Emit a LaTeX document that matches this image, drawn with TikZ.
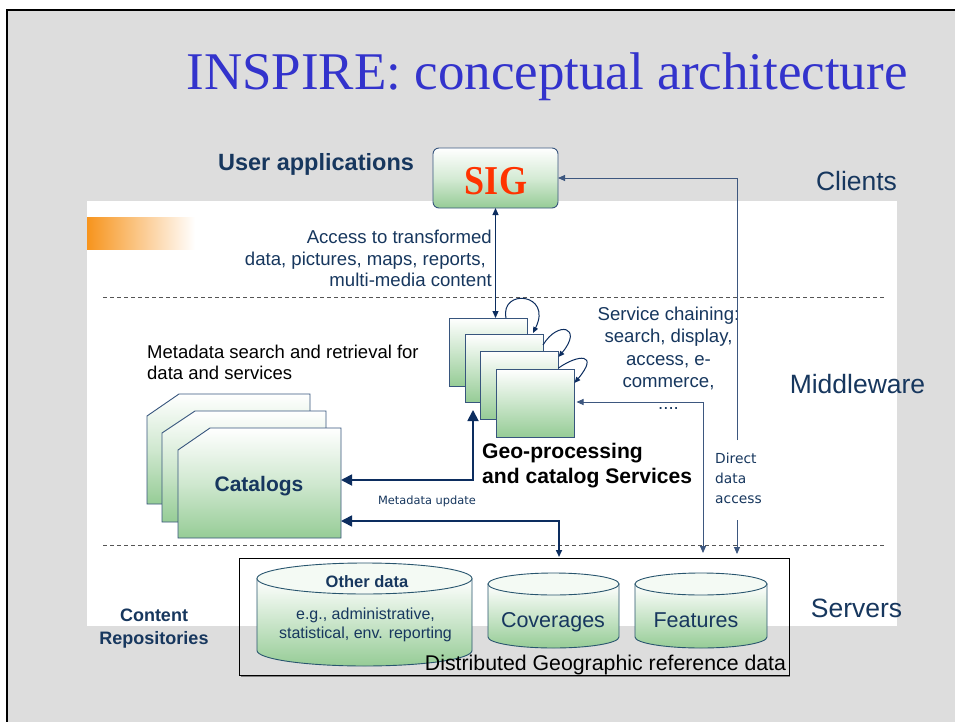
\documentclass[tikz,border=0pt]{standalone}
\usepackage{fontspec}
\usepackage{graphicx}
\setmainfont{Liberation Sans}
\newfontfamily\tnr{Liberation Serif}
\newfontfamily\dvs{DejaVu Sans}
\usetikzlibrary{arrows.meta,calc}
\definecolor{slidebg}{RGB}{221,221,221}
\definecolor{txtblue}{RGB}{23,55,94}
\definecolor{navy}{RGB}{12,45,95}
\definecolor{gr}{RGB}{150,204,150}
\definecolor{boxedge}{RGB}{55,85,125}
\definecolor{cyledge}{RGB}{40,85,110}
\definecolor{titleblue}{RGB}{51,51,204}
\definecolor{sigred}{RGB}{255,51,0}
\definecolor{orangebar}{RGB}{247,148,29}
\definecolor{dashgray}{RGB}{85,85,85}
\newcommand\fs[2]{\fontsize{#1}{#2}\selectfont}
\newcommand\cylinder[5]{%
  \path[draw=cyledge, line width=0.9pt, top color=white, bottom color=gr, middle color=gr!50]
    (#1-#3,#2) -- (#1-#3,#2+#5) arc[start angle=180, end angle=0, x radius=#3, y radius=#4]
    -- (#1+#3,#2) -- cycle;
  \filldraw[fill=gr!10, draw=cyledge, line width=0.9pt] (#1,#2) ellipse [x radius=#3, y radius=#4];}
\begin{document}
\begin{tikzpicture}[x=1pt,y=-1pt,
  box/.style={draw=boxedge, line width=0.9pt, top color=white, bottom color=gr, inner sep=0pt, outer sep=0pt},
  catbox/.style={draw=boxedge, line width=0.9pt, top color=white, bottom color=gr, middle color=gr!45},
  svbox/.style={box, minimum width=78pt, minimum height=68pt},
  lbl/.style={text=txtblue, inner sep=0pt},
  plain/.style={text=black, inner sep=0pt},
  dashline/.style={draw=dashgray, line width=0.8pt, dash pattern=on 4pt off 3pt},
  conn/.style={draw=navy, line width=1.1pt, >={Triangle[length=7pt,width=6pt]}},
  thinconn/.style={draw=navy!80, line width=0.9pt, >={Triangle[length=7pt,width=6pt]}},
  bigconn/.style={draw=navy, line width=1.8pt, >={Triangle[length=11pt,width=11pt]}},
  loopconn/.style={draw=navy, line width=1pt, >={Triangle[length=6pt,width=5pt]}}
]
\useasboundingbox (0,0) rectangle (955,722);
% slide background
\fill[white] (0,0) rectangle (955,722);
\fill[slidebg] (7,10) rectangle (955,722);
\draw[black, line width=2.5pt] (7,722) -- (7,10) -- (955,10);
\fill[white] (87,201) rectangle (897,626);
\shade[left color=orangebar, right color=white] (87,217) rectangle (195,249);
% layer separators
\draw[dashline] (103,297) -- (885,297);
\draw[dashline] (103,545) -- (885,545);
% title
\node[anchor=base, font=\tnr\fs{53}{60}, text=titleblue, inner sep=0pt] (title) at (547,90) {INSPIRE: conceptual architecture};
% layer labels
\node[lbl, anchor=base, font=\fs{26.5}{30}] (clients) at (856.5,190) {Clients};
\node[lbl, anchor=base, font=\fs{26.5}{30}] (middleware) at (857.5,393) {Middleware};
\node[lbl, anchor=base, font=\fs{26.5}{30}] (servers) at (856.5,617) {Servers};
% user applications
\node[lbl, anchor=base, font=\bfseries\fs{23.5}{28}] (ua) at (316,171) {User applications};
\node[box, rounded corners=6pt, minimum width=125pt, minimum height=60pt, middle color=gr!40] (sig) at (495.5,178) {};
\node[anchor=base, text=sigred, font=\tnr\bfseries\fs{41}{44}, inner sep=0pt] (sigtxt) at (496,195) {\scalebox{0.88}[1]{SIG}};
\node[lbl, anchor=north east, align=right, font=\fs{18.6}{21.5}] (access) at (492,230) {Access to transformed\\data, pictures, maps, reports,\kern6pt\\multi-media content};
% service boxes
\node[svbox] (sv1) at (488.5,352) {};
\node[svbox] (sv2) at (504,368) {};
\node[svbox] (sv3) at (519.5,385) {};
\node[svbox] (sv4) at (535.5,403) {};
\node[lbl, anchor=north, align=center, font=\fs{18.6}{22.3}] (chain) at (668.5,307) {Service chaining:\\search, display,\\access, e-\\commerce,\\....};
\node[plain, anchor=north west, align=left, font=\bfseries\fs{21.1}{25}] (geo) at (482,443) {Geo-processing\\and catalog Services};
% catalogs
\node[plain, anchor=north west, align=left, font=\fs{18.5}{21}] (msearch) at (147,345) {Metadata search and retrieval for\\data and services};
\path[catbox] (147,416) -- (179,394) -- (310,394) -- (310,504) -- (147,504) -- cycle;
\path[catbox] (162,433) -- (195,411) -- (326,411) -- (326,522) -- (162,522) -- cycle;
\path[catbox] (178,450) -- (210,428) -- (341,428) -- (341,538) -- (178,538) -- cycle;
\node[minimum width=163pt, minimum height=110pt, inner sep=0pt, outer sep=0pt] (cat) at (259.5,483) {};
\node[lbl, anchor=base, font=\bfseries\fs{21}{24}] (cattxt) at (259,491) {Catalogs};
\node[lbl, anchor=base, font=\dvs\fs{11.4}{13}] (mupd) at (427,504) {Metadata update};
% direct data access label
\node[lbl, anchor=north west, align=left, font=\dvs\fs{13.8}{20}] (direct) at (715,452.5) {Direct\\data\\access};
% repositories
\draw[gray, line width=1.5pt] (241,676.5) -- (790,676.5);
\node[draw=black, line width=0.8pt, minimum width=550pt, minimum height=117pt, inner sep=0pt, outer sep=0pt] (repo) at (514,616.5) {};
\cylinder{364.5}{578.5}{107.5}{15.5}{72}
\cylinder{553.5}{584}{65.5}{11}{53}
\cylinder{701}{584}{66}{11}{53}
\node[lbl, anchor=base, font=\bfseries\fs{16.5}{20}] (other) at (367,587) {Other data};
\node[lbl, anchor=north, align=center, font=\fs{16}{18.5}] (otherdesc) at (365.5,608) {e.g., administrative,\\statistical, env. reporting};
\node[lbl, anchor=base, font=\fs{21.5}{25}] (cov) at (553,627) {Coverages};
\node[lbl, anchor=base, font=\fs{21.5}{25}] (feat) at (696,627) {Features};
\node[plain, anchor=base, font=\fs{21.3}{25}] (dist) at (605.5,670) {Distributed Geographic reference data};
\node[lbl, anchor=north, align=center, font=\bfseries\fs{18}{23}] (content) at (154,609) {Content\\Repositories};
% connectors
\draw[conn, <->] (sig.south) -- (sig.south |- sv1.north);
\coordinate (dtop) at (737,440);
\coordinate (dbot) at (737,520);
\draw[thinconn, ->] (dtop) |- (sig.east);
\draw[thinconn, ->, shorten >=4pt] (dbot) -- (dbot |- repo.north);
\coordinate (sc) at (703,402);
\draw[thinconn, ->, shorten >=2pt] (sc) -- (sc -| sv4.east);
\draw[thinconn, ->, shorten >=5pt] (sc) -- (sc |- repo.north);
\draw[bigconn, <->] ([yshift=3pt]cat.east) -| ([xshift=8pt,yshift=-8pt]sv2.south west);
\draw[draw=navy, line width=1.6pt, {Triangle[length=11pt,width=11pt]}-{Triangle[length=7pt,width=6pt]}, shorten >=1pt] ([yshift=-38pt]cat.east) -| ($(repo.north west)+(320,0)$);
% service chaining loops
\draw[loopconn, ->] ($(sv1.north east)+(-21.5,0)$) .. controls +(-6,-30) and +(20,-40) .. ($(sv2.north east)+(-10,-1)$);
\draw[loopconn, ->] ($(sv2.north east)+(0,11)$) .. controls +(15,-25) and +(25,-30) .. ($(sv3.north east)+(0,6)$);
\draw[loopconn, ->] ($(sv3.north east)+(0,17)$) .. controls +(20,-14) and +(25,-30) .. ($(sv4.north east)+(0,14)$);
\end{tikzpicture}
\end{document}
